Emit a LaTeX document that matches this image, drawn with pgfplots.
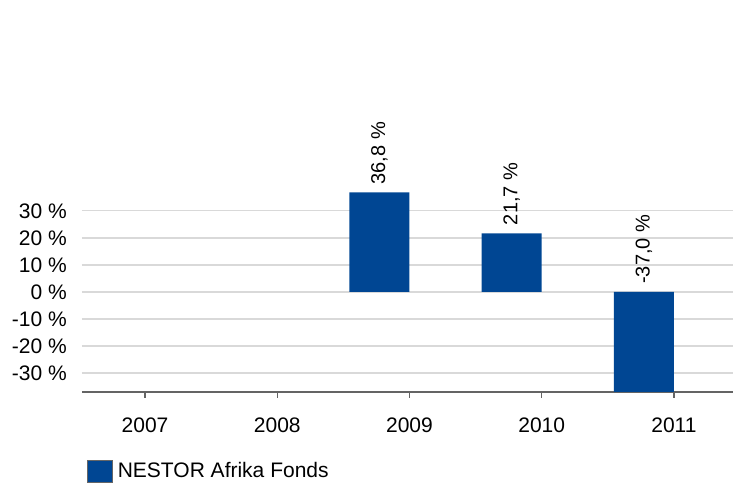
\documentclass[border=0pt]{standalone}
\usepackage{fontspec}
\setmainfont{Liberation Sans}
\usepackage{pgfplots}
\pgfplotsset{compat=1.18}
\definecolor{nestor}{RGB}{0,70,147}
\definecolor{gridc}{RGB}{217,217,217}
\definecolor{axisc}{RGB}{100,100,100}
\begin{document}
\begin{tikzpicture}
\path[use as bounding box] (-82pt,-92pt) rectangle (651pt,392pt);
\begin{axis}[
  scale only axis,
  width=651pt, height=292pt,
  at={(0pt,0pt)}, anchor=south west,
  xmin=-0.477, xmax=4.447,
  ymin=-37, ymax=71,
  font=\fontsize{21}{25}\selectfont,
  /pgf/number format/assume math mode=true,
  axis x line*=bottom, axis y line*=left,
  x axis line style={draw=axisc, line width=1.3pt, -},
  y axis line style={draw=none},
  xtick={0,1,2,3,4},
  xticklabels={2007,2008,2009,2010,2011},
  ytick={-30,-20,-10,0,10,20,30},
  yticklabels={-30 \%,-20 \%,-10 \%,0 \%,10 \%,20 \%,30 \%},
  tick align=outside,
  major tick length=6pt,
  xtick style={draw=axisc, line width=1.3pt},
  ytick style={draw=none},
  ymajorgrids,
  grid style={draw=gridc, line width=1.3pt},
  xticklabel style={inner sep=0pt, anchor=north, yshift=-20pt},
  yticklabel style={inner sep=0pt, anchor=east, xshift=-9pt},
  clip=false,
  legend style={at={(rel axis cs:0,-0.271)}, anchor=west, xshift=5pt, draw=none, fill=none, inner sep=0pt,
    font=\fontsize{21}{25}\selectfont, nodes={inner xsep=5pt, inner ysep=0pt}},
  legend image code/.code={\draw[fill=nestor, draw=black!60, line width=0.6pt] (0pt,-11.2pt) rectangle (25pt,11.2pt);},
]
\addplot[ybar, bar width=60pt, bar shift=-30pt, fill=nestor, draw=none] coordinates {(2,36.8) (3,21.7) (4,-37.0)};
\addlegendentry{NESTOR Afrika Fonds}
\addplot[draw=none, mark=none, forget plot, point meta=explicit symbolic,
  nodes near coords,
  nodes near coords style={rotate=90, anchor=west, inner xsep=8pt, inner ysep=0pt, font=\fontsize{20}{24}\selectfont, text=black}]
  coordinates {(1.773,36.8) [36,8 \%] (2.773,21.7) [21,7 \%] (3.773,0) [-37,0 \%]};
\end{axis}
\end{tikzpicture}
\end{document}
